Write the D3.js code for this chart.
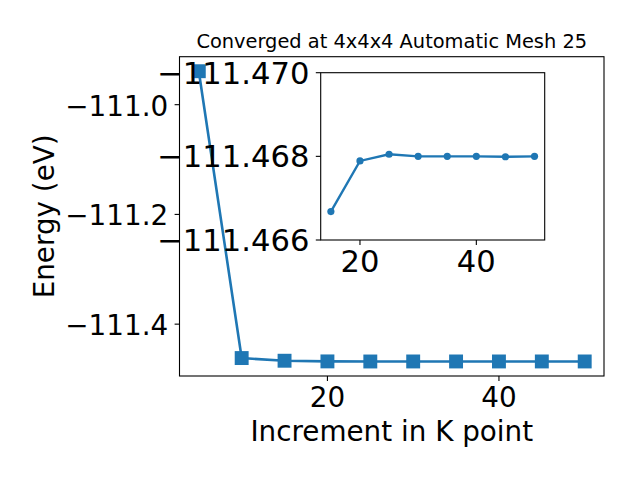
<!DOCTYPE html>
<html>
<head>
<meta charset="utf-8">
<script src="https://cdn.jsdelivr.net/npm/d3@7"></script>
<style>
body { margin: 0; background: #fff; }
svg { display: block; }
text { font-family: "DejaVu Sans", sans-serif; fill: #000; }
</style>
</head>
<body>
<svg id="chart" width="640" height="480"></svg>
<script>
// ---- data ----
const kPoints = [5, 10, 15, 20, 25, 30, 35, 40, 45, 50];
const energies = [-110.939, -111.4618, -111.46668, -111.46789, -111.46805, -111.46800, -111.46800, -111.46800, -111.46799, -111.46800];
const insetK = [15, 20, 25, 30, 35, 40, 45, 50];
const insetE = [-111.46668, -111.46789, -111.46805, -111.46800, -111.46800, -111.46800, -111.46799, -111.46800];
const mainXTicks = [20, 40];
const mainYTicks = [-111.4, -111.2, -111.0];
const insetXTicks = [20, 40];
const insetYTicks = [-111.470, -111.468, -111.466];
const titleText = "Converged at 4x4x4 Automatic Mesh 25";
const xLabel = "Increment in K point";
const yLabel = "Energy (eV)";

const color = "#1f77b4";
const fs = 27.8;
const tickLen = 4.9;

const svg = d3.select("#chart");

function padded(ext) {
  const m = (ext[1] - ext[0]) * 0.05;
  return [ext[0] - m, ext[1] + m];
}

function drawAxes(g, box, xs, ys, xt, yt, xf, yf, opt) {
  g.append("rect").attr("x", box.l).attr("y", box.t)
    .attr("width", box.r - box.l).attr("height", box.b - box.t)
    .attr("fill", "#fff");
  const xa = g.append("g");
  xt.forEach(v => {
    const x = xs(v);
    xa.append("line").attr("x1", x).attr("x2", x).attr("y1", box.b).attr("y2", box.b + tickLen)
      .attr("stroke", "#000").attr("stroke-width", 1.1);
    xa.append("text").attr("x", x).attr("y", box.b + opt.xBase)
      .attr("text-anchor", "middle").attr("font-size", opt.fs).text(xf(v));
  });
  const ya = g.append("g");
  yt.forEach(v => {
    const y = ys(v);
    ya.append("line").attr("x1", box.l - tickLen).attr("x2", box.l).attr("y1", y).attr("y2", y)
      .attr("stroke", "#000").attr("stroke-width", 1.1);
    ya.append("text").attr("x", box.l - opt.yPad).attr("y", y).attr("dy", opt.dy)
      .attr("text-anchor", "end").attr("font-size", opt.fs).text(yf(v));
  });
}

function frame(g, box) {
  g.append("rect").attr("x", box.l).attr("y", box.t)
    .attr("width", box.r - box.l).attr("height", box.b - box.t)
    .attr("fill", "none").attr("stroke", "#000").attr("stroke-width", 1.1);
}

// ---- main axes ----
const mbox = { l: 179.5, r: 604, t: 56.7, b: 376 };
const mx = d3.scaleLinear().domain(padded(d3.extent(kPoints))).range([mbox.l, mbox.r]);
const my = d3.scaleLinear().domain(padded(d3.extent(energies))).range([mbox.b, mbox.t]);
const mg = svg.append("g");
drawAxes(mg, mbox, mx, my, mainXTicks, mainYTicks, d3.format("d"), d3.format(".1f"),
  { fs: fs, xBase: 31.3, yPad: 11.3, dy: "0.39em" });

const mainData = kPoints.map((k, i) => [k, energies[i]]);
mg.append("path").datum(mainData)
  .attr("d", d3.line().x(d => mx(d[0])).y(d => my(d[1])))
  .attr("fill", "none").attr("stroke", color).attr("stroke-width", 2.6);
const sq = 13.9;
mg.selectAll("rect.m").data(mainData).enter().append("rect")
  .attr("x", d => mx(d[0]) - sq / 2).attr("y", d => my(d[1]) - sq / 2)
  .attr("width", sq).attr("height", sq).attr("fill", color);
frame(mg, mbox);

mg.append("text").attr("x", (mbox.l + mbox.r) / 2).attr("y", 48.4)
  .attr("text-anchor", "middle").attr("font-size", 19.4).text(titleText);
mg.append("text").attr("x", (mbox.l + mbox.r) / 2).attr("y", 441)
  .attr("text-anchor", "middle").attr("font-size", fs).text(xLabel);
mg.append("text").attr("transform", `translate(54,${(mbox.t + mbox.b) / 2}) rotate(-90)`)
  .attr("text-anchor", "middle").attr("font-size", fs).text(yLabel);

// ---- inset axes ----
const ibox = { l: 320.7, r: 544.7, t: 72.7, b: 240 };
const ix = d3.scaleLinear().domain(padded(d3.extent(insetK))).range([ibox.l, ibox.r]);
const iy = d3.scaleLinear().domain([insetYTicks[0], insetYTicks[2]]).range([ibox.t, ibox.b]);
const ig = svg.append("g");
drawAxes(ig, ibox, ix, iy, insetXTicks, insetYTicks, d3.format("d"), d3.format(".3f"),
  { fs: 30.6, xBase: 31.7, yPad: 11.3, dy: "0.36em" });
const insetData = insetK.map((k, i) => [k, insetE[i]]);
ig.append("path").datum(insetData)
  .attr("d", d3.line().x(d => ix(d[0])).y(d => iy(d[1])))
  .attr("fill", "none").attr("stroke", color).attr("stroke-width", 2.4);
ig.selectAll("circle").data(insetData).enter().append("circle")
  .attr("cx", d => ix(d[0])).attr("cy", d => iy(d[1])).attr("r", 3.6).attr("fill", color);
frame(ig, ibox);
</script>
</body>
</html>
